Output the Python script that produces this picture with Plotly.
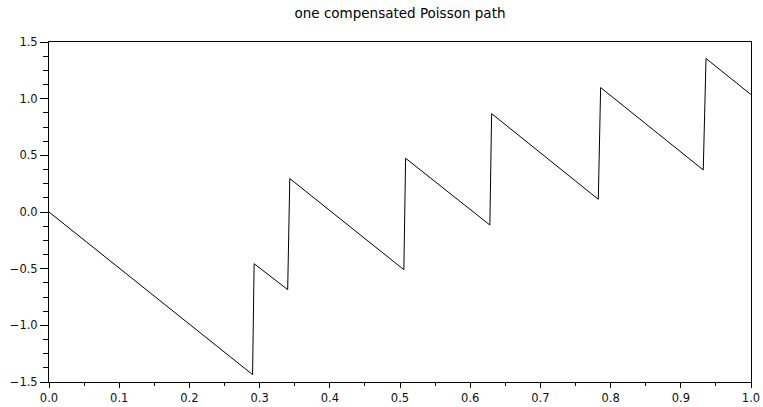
import plotly.graph_objects as go

t = [0.0, 0.290, 0.2922, 0.340, 0.343, 0.5055, 0.508, 0.628, 0.6305,
     0.7825, 0.7858, 0.932, 0.9359, 1.0]
v = [0.0, -1.435, -0.456, -0.685, 0.295, -0.509, 0.474, -0.115, 0.868,
     0.112, 1.098, 0.371, 1.354, 1.036]

x_ticks = [0.0, 0.1, 0.2, 0.3, 0.4, 0.5, 0.6, 0.7, 0.8, 0.9, 1.0]
y_ticks = [-1.5, -1.0, -0.5, 0.0, 0.5, 1.0, 1.5]

fig = go.Figure()
fig.add_trace(go.Scatter(x=t, y=v, mode="lines",
                         line=dict(color="black", width=1), showlegend=False,
                         hoverinfo="skip"))

fam = "DejaVu Sans, sans-serif"
font = dict(family=fam, size=11.5, color="#111111")

fig.update_layout(
    width=763, height=407,
    margin=dict(l=49, r=12, t=42, b=25),
    paper_bgcolor="white", plot_bgcolor="white",
    font=font,
    title=dict(text="one compensated Poisson path", xref="paper", x=0.5, xanchor="center",
               yref="container", y=1 - 13 / 407, yanchor="middle",
               font=dict(size=13.5, family=fam, color="black")),
)
fig.update_xaxes(range=[0, 1], tickvals=x_ticks, tickformat=".1f",
                 showgrid=False, zeroline=False, automargin=False,
                 showline=True, linecolor="black", linewidth=1, mirror=True,
                 ticks="outside", ticklen=5, tickcolor="black",
                 minor=dict(dtick=0.05, ticks="outside", ticklen=3, tickcolor="black", showgrid=False),
                 tickfont=font)
fig.update_yaxes(range=[-1.5, 1.5], tickvals=y_ticks, tickformat=".1f",
                 showgrid=False, zeroline=False, automargin=False,
                 showline=True, linecolor="black", linewidth=1, mirror=True,
                 ticks="outside", ticklen=8, tickcolor="black", ticklabelstandoff=0,
                 minor=dict(dtick=0.125, tick0=0, ticks="outside", ticklen=5, tickcolor="black", showgrid=False),
                 tickfont=font)

fig.write_html("out.html", config={"displayModeBar": False},
               post_script="document.body.style.margin='0';document.body.style.overflow='hidden';")
